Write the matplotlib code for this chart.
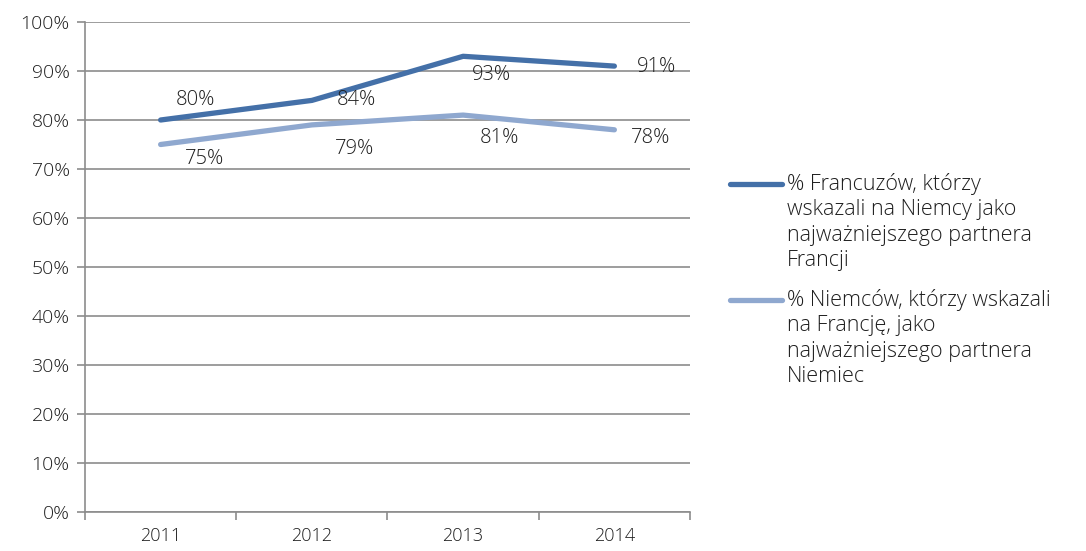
import matplotlib.pyplot as plt
from matplotlib.lines import Line2D
from matplotlib.ticker import FuncFormatter, FixedLocator

years = ["2011", "2012", "2013", "2014"]
francuzi = [80, 84, 93, 91]
niemcy = [75, 79, 81, 78]
labels = ["% Francuzów, którzy\nwskazali na Niemcy jako\nnajważniejszego partnera\nFrancji",
          "% Niemców, którzy wskazali\nna Francję, jako\nnajważniejszego partnera\nNiemiec"]

dark = "#4470A8"
light = "#8FA8CF"
grid_c = "#8C8C8C"
txt_c = "#1E1E1E"

plt.rcParams['font.family'] = ['Open Sans', 'DejaVu Sans']
plt.rcParams['font.weight'] = 'light'

fig = plt.figure(figsize=(10.86, 5.51), dpi=100)
ax = fig.add_axes([85/1086, 39/551, 605/1086, 490/551])

x = range(len(years))
ax.plot(x, francuzi, color=dark, lw=3.8, solid_capstyle='round')
ax.plot(x, niemcy, color=light, lw=3.8, solid_capstyle='round')

# offsets of data labels in pixels
off_f = [(35, 20), (44, 0), (28, -19), (42, -1)]
off_n = [(44, -15), (43, -24), (36, -23), (36, -8)]
for i, v in enumerate(francuzi):
    ax.annotate(f"{v}%", (i, v), xytext=off_f[i], textcoords='offset pixels',
                ha='center', va='center', fontsize=14.5, color=txt_c)
for i, v in enumerate(niemcy):
    ax.annotate(f"{v}%", (i, v), xytext=off_n[i], textcoords='offset pixels',
                ha='center', va='center', fontsize=14.5, color=txt_c)

ax.set_xlim(-0.5, 3.5)
ax.set_ylim(0, 100)
ax.set_yticks(range(0, 101, 10))
ax.yaxis.set_major_formatter(FuncFormatter(lambda v, p: f"{int(v)}%"))
ax.set_xticks(list(x))
ax.set_xticklabels(years)
ax.xaxis.set_minor_locator(FixedLocator([-0.5, 0.5, 1.5, 2.5, 3.5]))
ax.tick_params(axis='x', which='major', length=0, pad=11, labelsize=13, colors=txt_c)
ax.tick_params(axis='x', which='minor', length=6, color=grid_c, width=1.2)
ax.tick_params(axis='y', length=6, color=grid_c, width=1.2, labelsize=14, colors=txt_c, pad=5)
for lbl in ax.get_yticklabels() + ax.get_xticklabels():
    lbl.set_color(txt_c)

ax.grid(axis='y', color=grid_c, lw=1.2)
ax.set_axisbelow(True)
for s in ['top', 'right']:
    ax.spines[s].set_visible(False)
for s in ['left', 'bottom']:
    ax.spines[s].set_color(grid_c)
    ax.spines[s].set_linewidth(1.2)

# legend drawn by hand so the handle sits on the first text line
for k, (lab, col) in enumerate(zip(labels, [dark, light])):
    y_top = (551 - 184 - k * 116) / 551
    fig.add_artist(Line2D([730/1086, 782/1086], [y_top, y_top], color=col, lw=3.8,
                          solid_capstyle='round', transform=fig.transFigure))
    fig.text(787/1086, y_top + 11/551, lab, ha='left', va='top', fontsize=15.5,
             color=txt_c, linespacing=1.27)

fig.savefig("out.png", dpi=100)
